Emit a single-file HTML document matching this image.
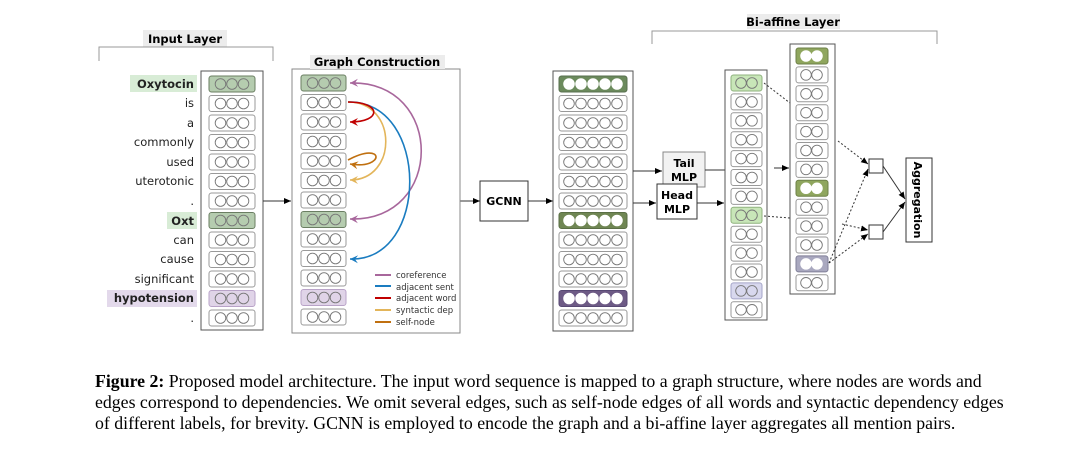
<!DOCTYPE html>
<html><head><meta charset="utf-8"><style>
body{margin:0;background:#fff;width:1072px;height:471px;overflow:hidden}
.cap{position:absolute;left:95px;top:371px;width:935px;font-family:"Liberation Serif",serif;font-size:17.8px;word-spacing:0px;line-height:21.2px;color:#000;white-space:nowrap}
</style></head><body>
<svg width="1072" height="471" style="position:absolute;left:0;top:0" font-family="DejaVu Sans, Liberation Sans, sans-serif">
<defs>
<marker id="ak" markerWidth="8" markerHeight="8" refX="7" refY="4" orient="auto" markerUnits="userSpaceOnUse"><path d="M0,1 L7,4 L0,7 z" fill="#000"/></marker>
<marker id="ap" markerWidth="10" markerHeight="10" refX="8" refY="5" orient="auto" markerUnits="userSpaceOnUse"><path d="M0,1 L8,5 L0,9 L3,5 z" fill="#a8679c"/></marker>
<marker id="apr" markerWidth="10" markerHeight="10" refX="8" refY="5" orient="auto-start-reverse" markerUnits="userSpaceOnUse"><path d="M0,1 L8,5 L0,9 L3,5 z" fill="#a8679c"/></marker>
<marker id="ab" markerWidth="10" markerHeight="10" refX="8" refY="5" orient="auto" markerUnits="userSpaceOnUse"><path d="M0,1 L8,5 L0,9 L3,5 z" fill="#1a7cc0"/></marker>
<marker id="ar" markerWidth="10" markerHeight="10" refX="8" refY="5" orient="auto" markerUnits="userSpaceOnUse"><path d="M0,1 L8,5 L0,9 L3,5 z" fill="#c00000"/></marker>
<marker id="ay" markerWidth="10" markerHeight="10" refX="8" refY="5" orient="auto" markerUnits="userSpaceOnUse"><path d="M0,1 L8,5 L0,9 L3,5 z" fill="#e3b55a"/></marker>
<marker id="ao" markerWidth="10" markerHeight="10" refX="8" refY="5" orient="auto" markerUnits="userSpaceOnUse"><path d="M0,1 L8,5 L0,9 L3,5 z" fill="#c07010"/></marker>
</defs>

<rect x="143" y="30" width="84" height="17" fill="#ececec"/>
<text x="185" y="43" font-size="11.5" font-weight="bold" text-anchor="middle">Input Layer</text>
<path d="M99,61 V47 H273 V61" fill="none" stroke="#999" stroke-width="1"/>

<rect x="130" y="75" width="67" height="17" fill="#d8ecd6"/>
<rect x="167" y="212" width="30" height="17" fill="#d8ecd6"/>
<rect x="107" y="290" width="90" height="17" fill="#e3d9eb"/>
<g font-size="11.5" text-anchor="end" fill="#222">
<text x="194" y="88" font-weight="bold">Oxytocin</text>
<text x="194" y="107">is</text>
<text x="194" y="127">a</text>
<text x="194" y="146">commonly</text>
<text x="194" y="166">used</text>
<text x="194" y="185">uterotonic</text>
<text x="194" y="205">.</text>
<text x="194" y="225" font-weight="bold">Oxt</text>
<text x="194" y="244">can</text>
<text x="194" y="263">cause</text>
<text x="194" y="283">significant</text>
<text x="194" y="302" font-weight="bold">hypotension</text>
<text x="194" y="322">.</text>
</g>
<rect x="201" y="71" width="62" height="259" fill="none" stroke="#555" stroke-width="1"/>

<line x1="263" y1="201" x2="291" y2="201" stroke="#333" marker-end="url(#ak)"/>
<line x1="460" y1="201" x2="480" y2="201" stroke="#333" marker-end="url(#ak)"/>
<line x1="528" y1="201" x2="553" y2="201" stroke="#333" marker-end="url(#ak)"/>

<rect x="292" y="69" width="168" height="264" fill="none" stroke="#888"/>
<rect x="310" y="55" width="135" height="14" fill="#ececec"/>
<text x="377" y="66" font-size="11.5" font-weight="bold" text-anchor="middle">Graph Construction</text>

<rect x="480" y="181" width="48" height="40" fill="#fff" stroke="#333"/>
<text x="504" y="205" font-size="11" font-weight="bold" text-anchor="middle">GCNN</text>
<rect x="553" y="71" width="80" height="260" fill="none" stroke="#555"/>

<line x1="633" y1="171" x2="662" y2="171" stroke="#333" marker-end="url(#ak)"/>
<line x1="633" y1="203" x2="656" y2="203" stroke="#333" marker-end="url(#ak)"/>
<rect x="663" y="152" width="42" height="35" fill="#f2f2f2" stroke="#888"/>
<text x="684" y="167" font-size="11" font-weight="bold" text-anchor="middle">Tail</text>
<text x="684" y="181" font-size="11" font-weight="bold" text-anchor="middle">MLP</text>
<rect x="657" y="184" width="40" height="35" fill="#fff" stroke="#333"/>
<text x="677" y="199" font-size="11" font-weight="bold" text-anchor="middle">Head</text>
<text x="677" y="213" font-size="11" font-weight="bold" text-anchor="middle">MLP</text>
<line x1="705" y1="170" x2="725" y2="170" stroke="#333"/>
<line x1="697" y1="203" x2="724" y2="203" stroke="#333" marker-end="url(#ak)"/>
<line x1="774" y1="168" x2="789" y2="168" stroke="#333" marker-end="url(#ak)"/>

<rect x="725" y="70" width="42" height="250" fill="none" stroke="#555"/>
<rect x="790" y="44" width="45" height="250" fill="none" stroke="#555"/>

<rect x="747" y="14" width="93" height="15" fill="#ececec"/>
<text x="793" y="26" font-size="11.5" font-weight="bold" text-anchor="middle">Bi-affine Layer</text>
<path d="M652,44 V31 H937 V44" fill="none" stroke="#999"/>

<g id="rowsg"></g>

<g stroke="#333" stroke-dasharray="2,2" fill="none">
<line x1="764" y1="83" x2="790" y2="103"/>
<line x1="838" y1="141" x2="868" y2="164" marker-end="url(#ak)"/>
<line x1="764" y1="216" x2="790" y2="218"/>
<line x1="842" y1="224" x2="868" y2="230" marker-end="url(#ak)"/>
<line x1="829" y1="263" x2="868" y2="169" marker-end="url(#ak)"/>
<line x1="829" y1="263" x2="868" y2="234" marker-end="url(#ak)"/>
</g>
<rect x="869" y="159" width="14" height="14" fill="#fff" stroke="#333"/>
<rect x="869" y="225" width="14" height="14" fill="#fff" stroke="#333"/>
<line x1="883" y1="166" x2="905" y2="199" stroke="#333" marker-end="url(#ak)"/>
<line x1="883" y1="232" x2="905" y2="202" stroke="#333" marker-end="url(#ak)"/>
<rect x="906" y="158" width="26" height="84" fill="#fff" stroke="#333"/>
<text transform="translate(914,200) rotate(90)" font-size="11" font-weight="bold" text-anchor="middle">Aggregation</text>

<g fill="none" stroke-width="1.6">
<path d="M350,83 C445,80 445,222 350,219" stroke="#a8679c" marker-start="url(#apr)" marker-end="url(#ap)"/>
<path d="M348,102 C430,100 430,262 350,259" stroke="#1a7cc0" marker-end="url(#ab)"/>
<path d="M348,102 C398,102 398,180 350,180" stroke="#e3b55a" marker-end="url(#ay)"/>
<path d="M348,102 C382,102 382,122 350,122" stroke="#c00000" marker-end="url(#ar)"/>
<path d="M348,160 C385,140 385,170 350,164" stroke="#c07010" marker-end="url(#ao)"/>
</g>
<g stroke-width="2">
<line x1="375" y1="275" x2="391" y2="275" stroke="#a8679c"/>
<line x1="375" y1="286" x2="391" y2="286" stroke="#1a7cc0"/>
<line x1="375" y1="298" x2="391" y2="298" stroke="#c00000"/>
<line x1="375" y1="310" x2="391" y2="310" stroke="#e3b55a"/>
<line x1="375" y1="322" x2="391" y2="322" stroke="#c07010"/>
</g>
<g font-size="8.5" fill="#333">
<text x="396" y="278">coreference</text>
<text x="396" y="290">adjacent sent</text>
<text x="396" y="301">adjacent word</text>
<text x="396" y="313">syntactic dep</text>
<text x="396" y="325">self-node</text>
</g>
</svg>
<div class="cap"><b>Figure 2:</b> Proposed model architecture. The input word sequence is mapped to a graph structure, where nodes are words and<br>edges correspond to dependencies. We omit several edges, such as self-node edges of all words and syntactic dependency edges<br>of different labels, for brevity. GCNN is employed to encode the graph and a bi-affine layer aggregates all mention pairs.</div>
<script>
var NS="http://www.w3.org/2000/svg",g=document.getElementById("rowsg");
function el(t,a){var e=document.createElementNS(NS,t);for(var k in a)e.setAttribute(k,a[k]);g.appendChild(e);return e;}
function col(x,y0,sp,w,n,fills,cfill,off,cs){
 for(var i=0;i<13;i++){var y=y0+i*sp,f=fills[i];
  el("rect",{x:x,y:y,width:w,height:16,rx:2.5,fill:f?f[0]:"#fff",stroke:f?f[1]:"#999","stroke-width":1});
  for(var j=0;j<n;j++)el("circle",{cx:x+off+j*cs,cy:y+8,r:5.3,fill:(f&&cfill)?"#fff":"none",stroke:f&&cfill?"#fff":"#777","stroke-width":0.9});}
}
var G=["#b5ccaf","#6a7e62"],P=["#e0d4e8","#b9a3c8"];
col(209,76,19.5,46,3,{0:G,7:G,11:P},false,11.5,11.5);
col(301,75,19.5,45,3,{0:G,7:G,11:P},false,11.5,11.5);
col(559,76,19.5,68,5,{0:["#6b8a5c","#5a7050"],7:["#6f8653","#5a6e45"],11:["#6d5a85","#574873"]},true,10,12);
col(731,75,18.9,31,2,{0:["#c8e6b8","#8fb27e"],7:["#c8e6b8","#8fb27e"],11:["#d8d8ee","#a5a5c8"]},false,10,11);
col(796,48,18.9,32,2,{0:["#8fa65e","#6e8048"],7:["#8fa65e","#6e8048"],11:["#a9a8bf","#807f98"]},true,10,11);
</script>
</body></html>
